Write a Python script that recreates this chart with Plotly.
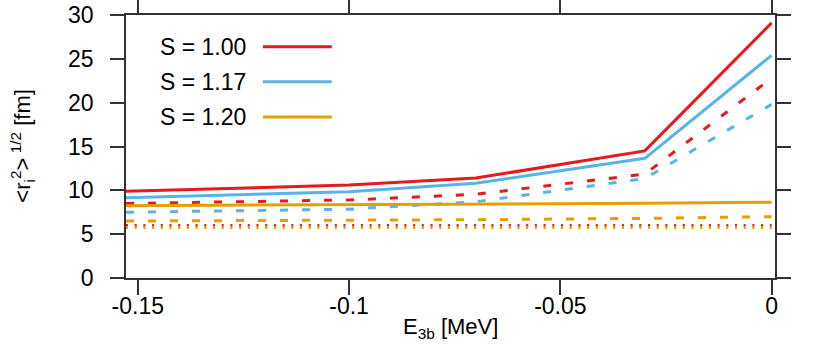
import plotly.graph_objects as go

# E_3b [MeV] sample points
e3b = [-0.1528, -0.1, -0.07, -0.03, 0.0]

# rms radius [fm]
r_s100_solid = [9.9, 10.6, 11.4, 14.5, 29.1]
r_s117_solid = [9.15, 9.85, 10.8, 13.65, 25.4]
r_s120_solid = [8.25, 8.35, 8.42, 8.52, 8.65]

r_s100_dash = [8.5, 8.9, 9.55, 11.85, 22.8]
r_s117_dash = [7.5, 7.85, 8.7, 11.35, 19.8]
r_s120_dash = [6.5, 6.55, 6.65, 6.8, 7.0]

r_s100_dot = [6.0, 6.0, 6.0, 6.0, 6.0]
r_s120_dot = [5.75, 5.75, 5.75, 5.75, 5.75]

labels = ['S = 1.00', 'S = 1.17', 'S = 1.20']
colors = ['#e41a1c', '#56b4e9', '#e69f00']

xticks = [-0.15, -0.1, -0.05, 0]
xticktext = ['-0.15', '-0.1', '-0.05', '0']
yticks = [0, 5, 10, 15, 20, 25, 30]

fig = go.Figure()

def add(y, c, dash):
    fig.add_trace(go.Scatter(x=e3b, y=y, mode='lines',
                             line=dict(color=c, width=3, dash=dash),
                             showlegend=False, hoverinfo='skip'))

add(r_s100_dot, colors[0], '2px,6.7px')
add(r_s120_dot, colors[2], '2px,6.7px')
add(r_s120_dash, colors[2], '8px,14px')
add(r_s117_dash, colors[1], '8px,14px')
add(r_s100_dash, colors[0], '8px,14px')
add(r_s120_solid, colors[2], 'solid')
add(r_s117_solid, colors[1], 'solid')
add(r_s100_solid, colors[0], 'solid')

# key (legend) drawn by hand, line sample right of text
key_y = [0.879, 0.746, 0.612]
for lab, c, ky in zip(labels, colors, key_y):
    fig.add_annotation(x=0.188, y=ky, xref='paper', yref='paper', text=lab,
                       showarrow=False, xanchor='right', yanchor='middle',
                       font=dict(size=23, color='black'))
    fig.add_shape(type='line', xref='paper', yref='paper',
                  x0=0.211, x1=0.317, y0=ky, y1=ky,
                  line=dict(color=c, width=3))

# axis titles
fig.add_annotation(x=0.5, y=-0.19, xref='paper', yref='paper',
                   text='E<sub>3b</sub> [MeV]', showarrow=False,
                   xanchor='center', yanchor='middle',
                   font=dict(size=22, color='black'))
fig.add_annotation(x=-0.16, y=0.5, xref='paper', yref='paper',
                   text='&lt;r<sub>i</sub><sup>2</sup>&gt;<sup> 1/2</sup> [fm]',
                   showarrow=False, textangle=-90,
                   xanchor='center', yanchor='middle',
                   font=dict(size=22, color='black'))

axcol = '#333333'
fig.update_xaxes(range=[-0.1528, 0.0008], tickvals=xticks, ticktext=xticktext,
                 ticks='outside', ticklen=15, tickwidth=1.5, tickcolor=axcol,
                 showline=True, linecolor=axcol, linewidth=1.5, mirror='allticks',
                 showgrid=False, zeroline=False, automargin=False,
                 tickfont=dict(size=23, color='black'), ticklabelstandoff=-8)
fig.update_yaxes(range=[0, 30], tickvals=yticks,
                 ticks='outside', ticklen=14, tickwidth=1.5, tickcolor=axcol,
                 showline=True, linecolor=axcol, linewidth=1.5, mirror='allticks',
                 showgrid=False, zeroline=False, automargin=False,
                 tickfont=dict(size=23, color='black'), ticklabelstandoff=12)

fig.update_layout(width=830, height=348,
                  margin=dict(l=126, r=55, t=15, b=70),
                  paper_bgcolor='white', plot_bgcolor='white',
                  font=dict(family='Liberation Sans, Arial, sans-serif', size=23))

# the page body has a default 8px margin; drop it so the 830x348 figure fills the window
fig.write_html("out.html", config={'displayModeBar': False},
               post_script="document.body.style.margin='0';")
